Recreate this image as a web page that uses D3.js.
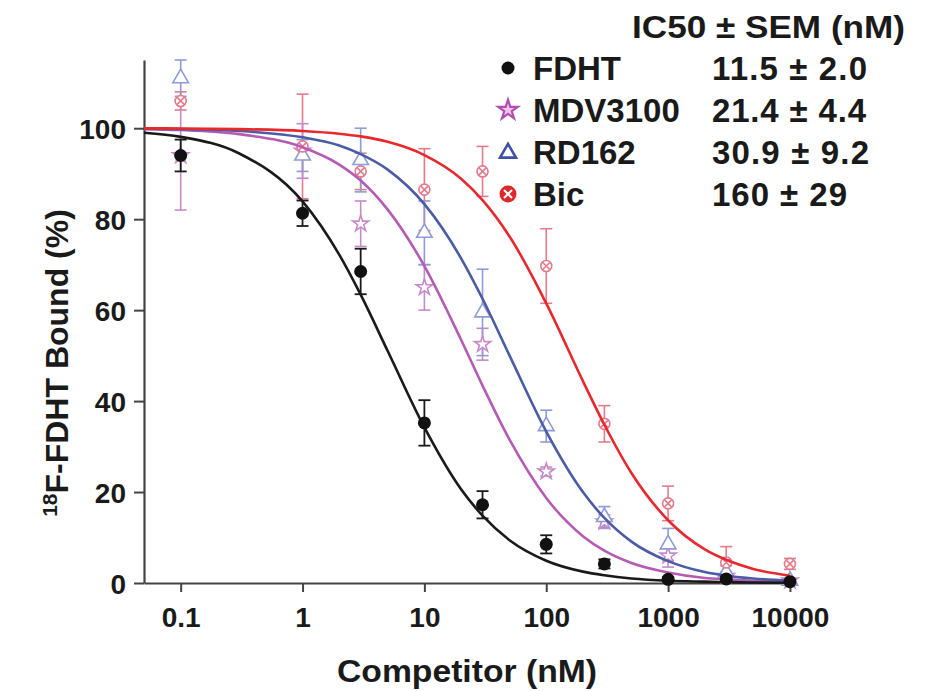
<!DOCTYPE html>
<html>
<head>
<meta charset="utf-8">
<script src="https://cdn.jsdelivr.net/npm/d3@7"></script>
<style>
  body { margin: 0; background: #fff; }
  svg text { font-family: "Liberation Sans", Arial, sans-serif; font-weight: bold; fill: #1a1a1a; }
</style>
</head>
<body>
<svg id="chart" width="930" height="691"></svg>
<script>
// measured concentrations (nM)
const concentrations = [0.1, 1, 3, 10, 30, 100, 300, 1000, 3000, 10000];

// % bound, mean and SEM per competitor
const fdhtMean = [94, 81.3, 68.5, 35.2, 17.2, 8.5, 4.2, 0.8, 0.9, 0.3];
const fdhtSem  = [3.5, 2.8, 5, 5, 3, 2, 1, 0.5, 0.5, 0.3];
const mdvMean  = [94, 95, 79, 65, 52.5, 24.5, 13.5, 6, 1.5, 0.5];
const mdvSem   = [12, 6, 5, 5, 3.5, 1, 1.5, 2.5, 1, 0.4];
const rdMean   = [111, 94, 93, 77, 59.5, 34.5, 14.5, 8.5, 2.3, 0.5];
const rdSem    = [4, 3.5, 7, 7, 9.5, 3.5, 2.3, 3.5, 1.5, 0.4];
const bicMean  = [106, 96, 90.5, 86.5, 90.5, 69.7, 35, 17.5, 4.5, 4.2];
const bicSem   = [2, 11.5, 4, 9, 5.5, 8.2, 4, 3.8, 3.5, 1.2];

// fitted curves
const fitConc = [0.05, 0.1, 0.3, 1, 2, 3, 5, 10, 20, 30, 50, 100, 200, 300, 500, 1000, 2000, 3000, 5000, 10000];
const fdhtFit = [99.0, 98.1, 94.5, 83.9, 72.2, 63.4, 51.0, 34.2, 20.6, 14.8, 9.4, 4.9, 2.5, 1.7, 1.0, 0.5, 0.3, 0.2, 0.1, 0.05];
const mdvFit  = [99.8, 99.6, 98.7, 95.8, 92.0, 88.5, 82.1, 69.7, 53.5, 43.4, 31.5, 18.7, 10.3, 7.1, 4.4, 2.3, 1.1, 0.8, 0.5, 0.2];
const rdFit   = [99.9, 99.8, 99.4, 98.0, 96.2, 94.3, 90.9, 83.3, 71.4, 62.5, 50.0, 33.3, 20.0, 14.3, 9.1, 4.8, 2.4, 1.6, 1.0, 0.5];
const bicFit  = [99.97, 99.94, 99.8, 99.4, 98.8, 98.2, 97.0, 94.1, 88.9, 84.2, 76.2, 61.5, 44.4, 34.8, 24.2, 13.8, 7.4, 5.1, 3.1, 1.6];

const xTicks = [0.1, 1, 10, 100, 1000, 10000];
const yTicks = [0, 20, 40, 60, 80, 100];

const names  = ["FDHT", "MDV3100", "RD162", "Bic"];
const ic50   = ["11.5 ± 2.0", "21.4 ± 4.4", "30.9 ± 9.2", "160 ± 29"];
const ic50Width = [155, 154, 157, 135];

const svg = d3.select("#chart");

const x = d3.scaleLog().domain([0.05, 11000]).range([144, 795]);
const y = d3.scaleLinear().domain([0, 115]).range([583, 60]);

// axes
const xAxis = svg.append("g")
  .attr("transform", "translate(0," + y(0) + ")")
  .call(d3.axisBottom(x).tickValues(xTicks).tickFormat(d3.format("")).tickSize(9).tickSizeOuter(0));
const yAxis = svg.append("g")
  .attr("transform", "translate(" + x(0.05) + ",0)")
  .call(d3.axisLeft(y).tickValues(yTicks).tickSize(10).tickSizeOuter(0));

[xAxis, yAxis].forEach(function(a) {
  a.select(".domain").attr("stroke", "#444").attr("stroke-width", 2.2);
  a.selectAll(".tick line").attr("stroke", "#444").attr("stroke-width", 2);
  a.selectAll(".tick text").attr("font-size", 28).attr("fill", "#1a1a1a");
});
xAxis.selectAll(".tick text").attr("y", 44).attr("dy", 0);
yAxis.selectAll(".tick text").attr("x", -18).attr("dy", "0.36em");

svg.append("text")
  .attr("x", 467).attr("y", 682)
  .attr("text-anchor", "middle").attr("font-size", 31)
  .attr("textLength", 260).attr("lengthAdjust", "spacingAndGlyphs")
  .text("Competitor (nM)");

const yTitle = svg.append("text")
  .attr("transform", "translate(68,363) rotate(-90)")
  .attr("text-anchor", "middle").attr("font-size", 32);
yTitle.append("tspan").attr("font-size", 21).attr("dy", -11).text("18");
yTitle.append("tspan").attr("dy", 11).text("F-FDHT Bound (%)");

// error bars + markers
function errorBars(mean, sem, color, width) {
  const g = svg.append("g").attr("stroke", color).attr("stroke-width", width).attr("fill", "none");
  concentrations.forEach(function(c, i) {
    const cx = x(c), top = y(mean[i] + sem[i]), bot = y(Math.max(0, mean[i] - sem[i]));
    g.append("line").attr("x1", cx).attr("x2", cx).attr("y1", top).attr("y2", bot);
    g.append("line").attr("x1", cx - 6).attr("x2", cx + 6).attr("y1", top).attr("y2", top);
    g.append("line").attr("x1", cx - 6).attr("x2", cx + 6).attr("y1", bot).attr("y2", bot);
  });
}

const bicColor = "#e27b8c", rdColor = "#8e9bd6", mdvColor = "#c68ac9";

errorBars(bicMean, bicSem, bicColor, 1.6);
errorBars(mdvMean, mdvSem, mdvColor, 1.6);
errorBars(rdMean, rdSem, rdColor, 1.6);

const star = d3.symbol().type(d3.symbolStar).size(80);
const tri = d3.symbol().type(d3.symbolTriangle).size(105);

svg.append("g").selectAll("path").data(concentrations).join("path")
  .attr("transform", (d, i) => "translate(" + x(d) + "," + y(mdvMean[i]) + ")")
  .attr("d", star).attr("fill", "#fff").attr("stroke", mdvColor).attr("stroke-width", 1.6);

svg.append("g").selectAll("path").data(concentrations).join("path")
  .attr("transform", (d, i) => "translate(" + x(d) + "," + y(rdMean[i]) + ")")
  .attr("d", tri).attr("fill", "#fff").attr("stroke", rdColor).attr("stroke-width", 1.6);

const bicG = svg.append("g").selectAll("g").data(concentrations).join("g")
  .attr("transform", (d, i) => "translate(" + x(d) + "," + y(bicMean[i]) + ")")
  .attr("stroke", bicColor).attr("stroke-width", 1.6).attr("fill", "none");
bicG.append("circle").attr("r", 5.5).attr("fill", "#fff");
bicG.append("path").attr("d", "M-3.5,-3.5L3.5,3.5M-3.5,3.5L3.5,-3.5");

// fitted curves
const line = d3.line().x(d => x(d[0])).y(d => y(d[1])).curve(d3.curveMonotoneX);
const fits = [
  { vals: mdvFit, color: "#b65bb4" },
  { vals: rdFit, color: "#4b5ca6" },
  { vals: bicFit, color: "#e8282d" },
  { vals: fdhtFit, color: "#1a1a1a" }
];
fits.forEach(function(f) {
  svg.append("path")
    .datum(fitConc.map((c, i) => [c, f.vals[i]]))
    .attr("d", line).attr("fill", "none")
    .attr("stroke", f.color).attr("stroke-width", 2.6);
});

// FDHT points on top
errorBars(fdhtMean, fdhtSem, "#1a1a1a", 1.8);
svg.append("g").selectAll("circle").data(concentrations).join("circle")
  .attr("cx", d => x(d)).attr("cy", (d, i) => y(fdhtMean[i])).attr("r", 6.5)
  .attr("fill", "#111");

// legend
svg.append("text").attr("x", 632).attr("y", 38).attr("font-size", 32)
  .attr("textLength", 273).attr("lengthAdjust", "spacingAndGlyphs")
  .text("IC50 ± SEM (nM)");
const rowY = [80, 122, 164, 206];
names.forEach(function(n, i) {
  svg.append("text").attr("x", 533).attr("y", rowY[i]).attr("font-size", 33).text(n);
  svg.append("text").attr("x", 712).attr("y", rowY[i]).attr("font-size", 33)
    .attr("textLength", ic50Width[i]).attr("lengthAdjust", "spacing").text(ic50[i]);
});
const lx = 508;
svg.append("circle").attr("cx", lx).attr("cy", rowY[0] - 12).attr("r", 6.5).attr("fill", "#111");
svg.append("path").attr("transform", "translate(" + lx + "," + (rowY[1] - 12) + ")")
  .attr("d", d3.symbol().type(d3.symbolStar).size(120))
  .attr("fill", "#f3c4ee").attr("stroke", "#b14fb0").attr("stroke-width", 2.2);
svg.append("path").attr("transform", "translate(" + lx + "," + (rowY[2] - 11) + ")")
  .attr("d", d3.symbol().type(d3.symbolTriangle).size(110))
  .attr("fill", "#fff").attr("stroke", "#3e51a6").attr("stroke-width", 2.6);
const lb = svg.append("g").attr("transform", "translate(" + lx + "," + (rowY[3] - 12) + ")");
lb.append("circle").attr("r", 8.5).attr("fill", "#e0282c");
lb.append("path").attr("d", "M-4,-4L4,4M-4,4L4,-4").attr("stroke", "#fff").attr("stroke-width", 2);
</script>
</body>
</html>
